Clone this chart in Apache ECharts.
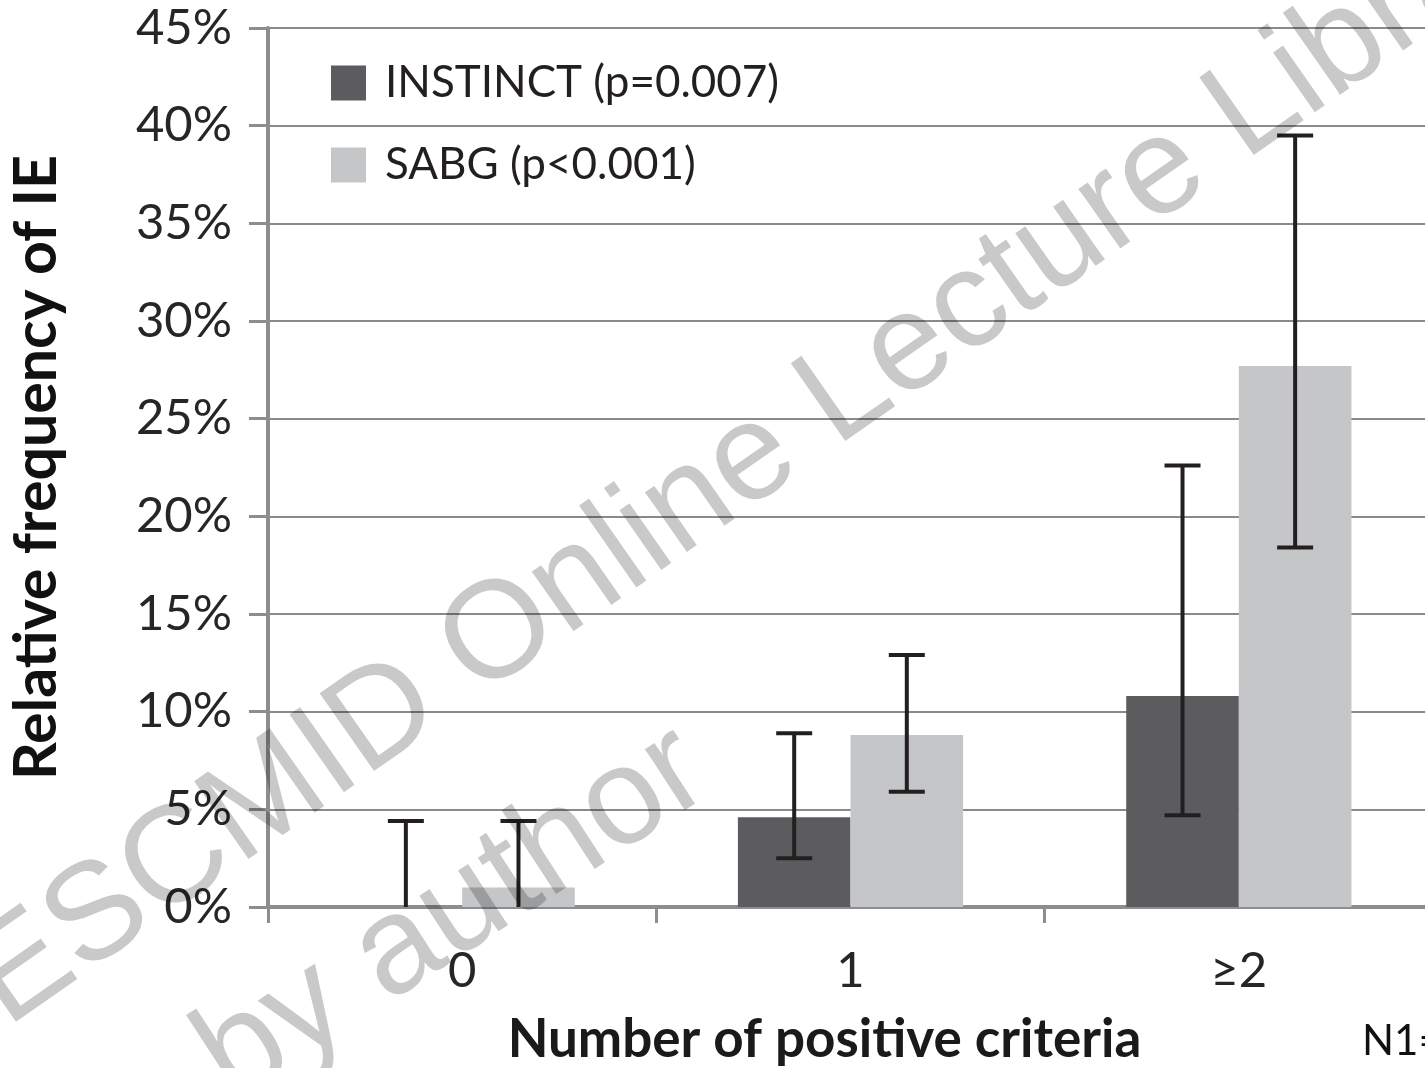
<!DOCTYPE html>
<html>
<head>
<meta charset="utf-8">
<title>Relative frequency of IE</title>
<script src="https://cdn.jsdelivr.net/npm/echarts@6/dist/echarts.min.js"></script>
<style>
  html, body { margin: 0; padding: 0; background: #ffffff; }
  #chart { width: 1425px; height: 1068px; }
</style>
</head>
<body>
<div id="chart"></div>
<script>
// Categories on the x axis
const categories = ['0', '1', '≥2'];

// Relative frequency of IE (%) with 95% interval bounds
const instinctValues = [0, 4.6, 10.8];
const instinctLow = [0, 2.5, 4.7];
const instinctHigh = [4.4, 8.9, 22.6];

const sabgValues = [1.0, 8.8, 27.7];
const sabgLow = [0, 5.9, 18.4];
const sabgHigh = [4.4, 12.9, 39.5];

const seriesNames = ['INSTINCT (p=0.007)', 'SABG (p<0.001)'];

// Y axis range (%)
const yMin = 0, yMax = 45, yStep = 5;

const BAR_FRACTION = 0.29; // each bar's share of a category band
const FONT = 'Lato, "Open Sans", sans-serif';

function intervalData(low, high) {
  return categories.map((c, i) => [i, low[i], high[i]]);
}

function errorBars(order) {
  return function (params, api) {
    const idx = api.value(0);
    const lowV = api.value(1);
    const top = api.coord([idx, api.value(2)]);
    const bottom = api.coord([idx, lowV]);
    const band = api.size([1, 0])[0];
    const x = top[0] + (order - 0.5) * band * BAR_FRACTION;
    const half = 18;
    const style = { stroke: '#231f20', lineWidth: 4 };
    const children = [
      { type: 'line', shape: { x1: x, y1: top[1], x2: x, y2: bottom[1] }, style },
      { type: 'line', shape: { x1: x - half, y1: top[1], x2: x + half, y2: top[1] }, style }
    ];
    if (lowV > yMin) {
      children.push({ type: 'line', shape: { x1: x - half, y1: bottom[1], x2: x + half, y2: bottom[1] }, style });
    }
    return { type: 'group', children };
  };
}

const axisGray = '#8c8d8f';

const option = {
  backgroundColor: '#ffffff',
  animation: false,
  grid: { left: 268, top: 28, width: 1165, height: 879, containLabel: false, outerBoundsMode: 'none' },
  legend: {
    data: seriesNames,
    orient: 'vertical',
    left: 331,
    top: 61,
    padding: 0,
    icon: 'rect',
    itemWidth: 35,
    itemHeight: 35,
    itemGap: 38,
    textStyle: { fontFamily: FONT, fontSize: 44, color: '#231f20', padding: [0, 0, 0, 14] }
  },
  xAxis: {
    type: 'category',
    data: categories,
    name: 'Number of positive criteria',
    nameLocation: 'middle',
    nameGap: 106,
    nameTextStyle: { fontFamily: FONT, fontSize: 53, fontWeight: 'bold', color: '#1a1a1a', padding: [0, 52, 0, 0] },
    axisLine: { show: true, lineStyle: { color: axisGray, width: 4 } },
    axisTick: { show: true, length: 16, lineStyle: { color: axisGray, width: 3 } },
    axisLabel: { fontFamily: FONT, fontSize: 49, color: '#262626', margin: 40 },
    splitLine: { show: false }
  },
  yAxis: {
    type: 'value',
    min: yMin,
    max: yMax,
    interval: yStep,
    name: 'Relative frequency of IE',
    nameLocation: 'middle',
    nameRotate: 90,
    nameGap: 202,
    nameTextStyle: { fontFamily: FONT, fontSize: 59, fontWeight: 'bold', color: '#111111' },
    axisLine: { show: true, lineStyle: { color: axisGray, width: 4 } },
    axisTick: { show: true, length: 19, lineStyle: { color: axisGray, width: 3 } },
    axisLabel: { fontFamily: FONT, fontSize: 49, color: '#262626', margin: 36, formatter: '{value}%' },
    splitLine: { show: true, lineStyle: { color: '#8a8a8a', width: 2 } }
  },
  series: [
    {
      name: seriesNames[0],
      type: 'bar',
      data: instinctValues,
      barWidth: (BAR_FRACTION * 100) + '%',
      barGap: '0%',
      itemStyle: { color: '#5c5c5e' },
      z: 2
    },
    {
      name: seriesNames[1],
      type: 'bar',
      data: sabgValues,
      barWidth: (BAR_FRACTION * 100) + '%',
      barGap: '0%',
      itemStyle: { color: '#c5c6c8' },
      z: 2
    },
    {
      name: 'INSTINCT interval',
      type: 'custom',
      renderItem: errorBars(0),
      data: intervalData(instinctLow, instinctHigh),
      encode: { x: 0, y: [1, 2] },
      z: 5
    },
    {
      name: 'SABG interval',
      type: 'custom',
      renderItem: errorBars(1),
      data: intervalData(sabgLow, sabgHigh),
      encode: { x: 0, y: [1, 2] },
      z: 5
    }
  ],
  graphic: [
    {
      type: 'text',
      x: 1362,
      y: 1041,
      z: 10,
      style: { text: 'N1=', font: '42px Lato, sans-serif', fill: '#111111', textAlign: 'left', textVerticalAlign: 'middle' }
    },
    {
      type: 'text',
      x: -15,
      y: 997,
      rotation: 35 * Math.PI / 180,
      z: 100,
      silent: true,
      style: { text: 'ESCMID Online Lecture Library', font: '138px "Liberation Sans", Arial, sans-serif', fill: 'rgba(0,0,0,0.21)', textAlign: 'left', textVerticalAlign: 'middle' }
    },
    {
      type: 'text',
      x: 212,
      y: 1072,
      rotation: 33 * Math.PI / 180,
      z: 100,
      silent: true,
      style: { text: 'by author', font: '138px "Liberation Sans", Arial, sans-serif', fill: 'rgba(0,0,0,0.21)', textAlign: 'left', textVerticalAlign: 'middle' }
    }
  ]
};

const chart = echarts.init(document.getElementById('chart'), null, { renderer: 'canvas' });
chart.setOption(option);
</script>
</body>
</html>
